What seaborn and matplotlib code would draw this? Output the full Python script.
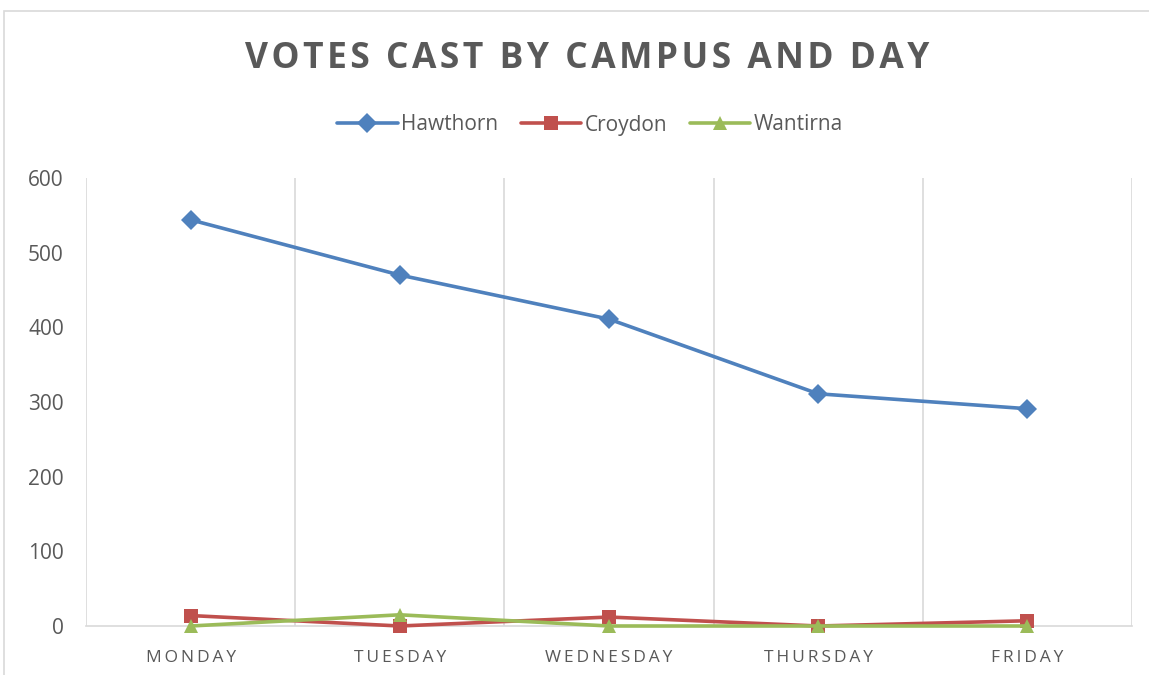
import numpy as np
import pandas as pd
import matplotlib
matplotlib.use("Agg")
import matplotlib.pyplot as plt
import seaborn as sns
from matplotlib.patches import Rectangle

days = ["MONDAY", "TUESDAY", "WEDNESDAY", "THURSDAY", "FRIDAY"]
campuses = ["Hawthorn", "Croydon", "Wantirna"]
hawthorn = [544, 470, 411, 311, 291]
croydon = [14, 0, 12, 0, 7]
wantirna = [0, 15, 0, 0, 0]

colors = {"Hawthorn": "#4F81BD", "Croydon": "#C0504D", "Wantirna": "#9BBB59"}
markers = {"Hawthorn": "D", "Croydon": "s", "Wantirna": "^"}

rows = []
for name, vals in zip(campuses, [hawthorn, croydon, wantirna]):
    for i, v in enumerate(vals):
        rows.append({"pos": i, "day": days[i], "campus": name, "votes": v})
df = pd.DataFrame(rows)

sns.set_theme(style="white")
plt.rcParams["font.family"] = ["Open Sans", "DejaVu Sans"]
text_color = "#595959"
grid_color = "#D9D9D9"

fig = plt.figure(figsize=(11.49, 6.75), dpi=100)
ax = fig.add_axes([86 / 1149, 49 / 675, (1132 - 86) / 1149, (626 - 178) / 675])

sns.lineplot(data=df, x="pos", y="votes", hue="campus", style="campus",
             hue_order=campuses, style_order=campuses,
             palette=colors, markers=markers, dashes=False,
             linewidth=2.6, markersize=10, markeredgewidth=0, ax=ax,
             legend=False, clip_on=False, zorder=3)

ax.set_xlim(-0.5, len(days) - 0.5)
ax.set_ylim(0, 600)
ax.set_yticks(range(0, 601, 100))
ax.set_xticks(range(len(days)))
spaced = ["\u2009".join(d) for d in days]
ax.set_xticklabels(spaced, fontsize=12.5, color=text_color)
ax.grid(False)
for x in np.arange(-0.5, len(days)):
    ax.axvline(x, color=grid_color, linewidth=1.2, zorder=0)
ax.tick_params(axis="y", labelsize=15, colors=text_color, length=0, pad=16)
ax.tick_params(axis="x", which="both", length=0, pad=17)
for side in ["top", "right", "left"]:
    ax.spines[side].set_visible(False)
ax.spines["bottom"].set_color(grid_color)
ax.spines["bottom"].set_linewidth(1.2)
ax.spines["bottom"].set_zorder(1)
ax.set_xlabel("")
ax.set_ylabel("")

handles = [plt.Line2D([], [], color=colors[c], marker=markers[c], linewidth=2.6,
                      markersize=10, markeredgewidth=0) for c in campuses]
fig.legend(handles, campuses, loc="center", bbox_to_anchor=(590 / 1149, 1 - 125 / 675),
           ncol=3, frameon=False, fontsize=15, handlelength=2.9, handletextpad=0.15,
           columnspacing=1.1, labelcolor=text_color)

title = "\u200a".join("VOTES CAST BY CAMPUS AND DAY")
fig.text(587 / 1149, 1 - 59 / 675, title, ha="center", va="center",
         fontsize=25.5, fontweight="bold", color=text_color)

fig.patches.append(Rectangle((4 / 1149, -0.1), 1.2, 1 - 11 / 675 + 0.1,
                             transform=fig.transFigure, fill=False,
                             edgecolor=grid_color, linewidth=1.2))

fig.savefig("out.png", dpi=100)
